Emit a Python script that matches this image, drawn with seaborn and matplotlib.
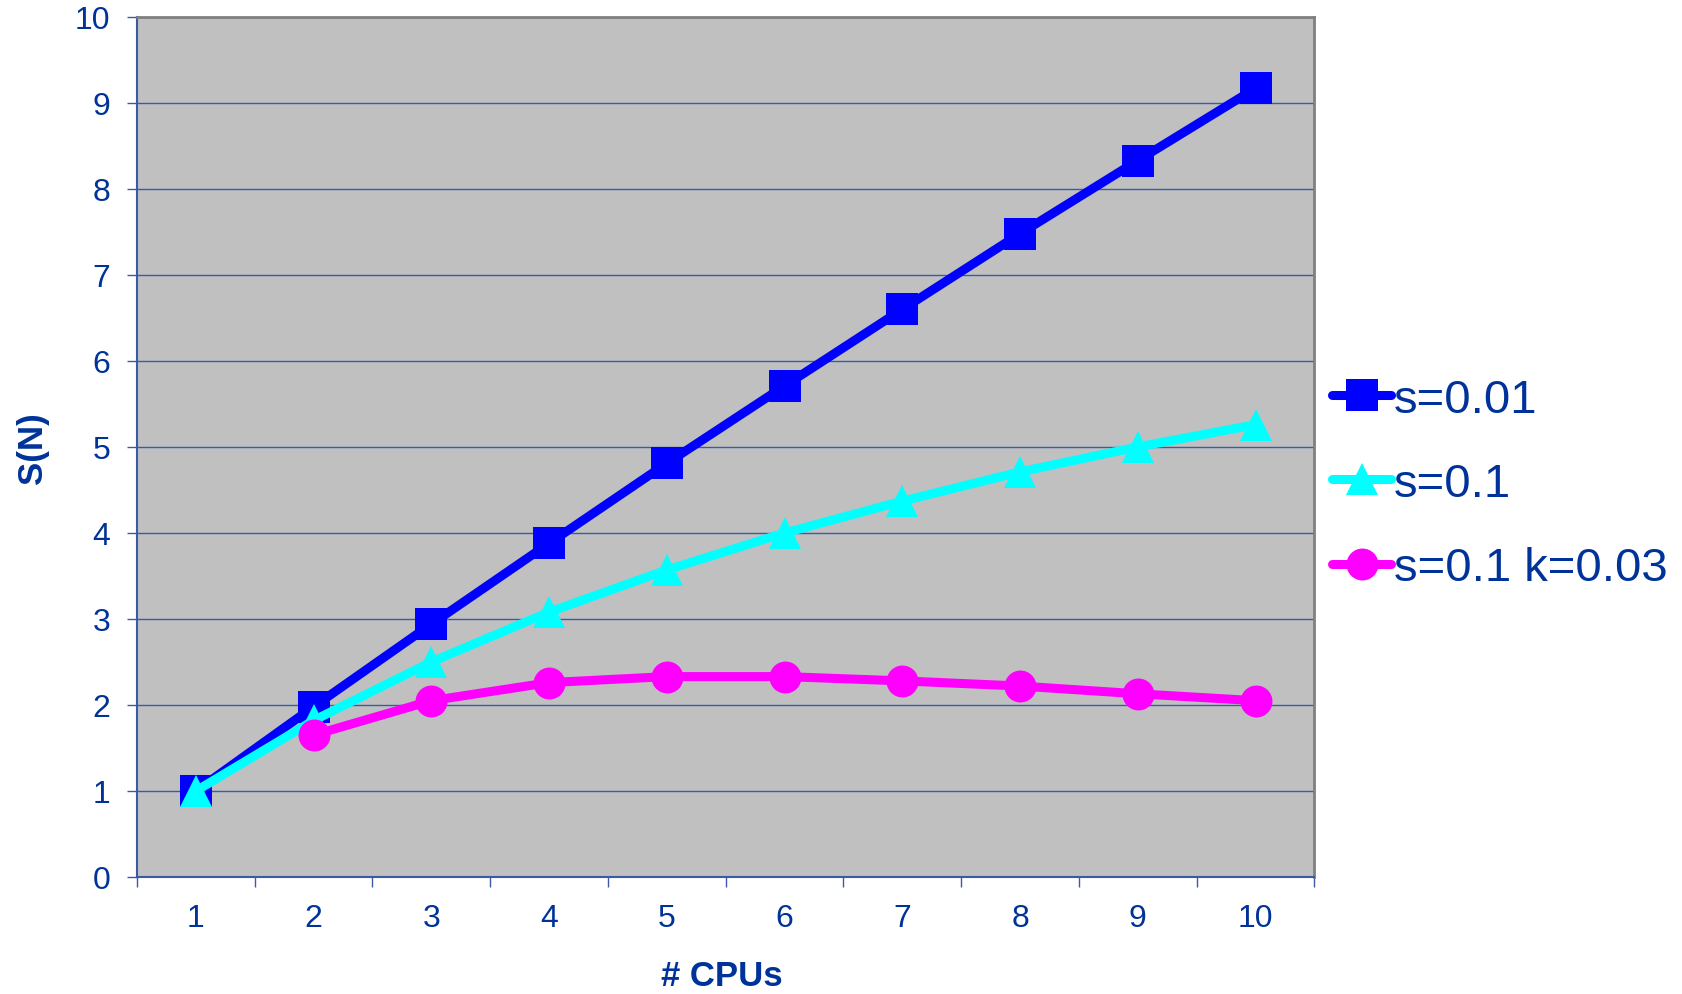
import pandas as pd
import matplotlib.pyplot as plt
import seaborn as sns
from matplotlib.ticker import MultipleLocator, FixedLocator

cpus = [1, 2, 3, 4, 5, 6, 7, 8, 9, 10]
s001 = [1.0, 1.98, 2.94, 3.88, 4.81, 5.71, 6.60, 7.48, 8.33, 9.17]
s01 = [1.0, 1.82, 2.50, 3.08, 3.57, 4.00, 4.37, 4.71, 5.00, 5.26]
cpus_k = [2, 3, 4, 5, 6, 7, 8, 9, 10]
s01_k003 = [1.65, 2.05, 2.26, 2.33, 2.33, 2.28, 2.22, 2.13, 2.05]

labels = ["s=0.01", "s=0.1", "s=0.1 k=0.03"]

df = pd.concat([
    pd.DataFrame({"cpus": cpus, "speedup": s001, "series": labels[0]}),
    pd.DataFrame({"cpus": cpus, "speedup": s01, "series": labels[1]}),
    pd.DataFrame({"cpus": cpus_k, "speedup": s01_k003, "series": labels[2]}),
])

sns.set_theme(style="white")
plt.rcParams["font.family"] = ["Liberation Sans", "DejaVu Sans"]

text_col = "#003399"
grid_col = "#3a5aa8"

fig = plt.figure(figsize=(16.83, 9.95), dpi=100)
ax = fig.add_axes([0.0814, 0.1176, 0.6996, 0.8644])
ax.set_facecolor("#c0c0c0")

palette = {labels[0]: "#0000ff", labels[1]: "#00ffff", labels[2]: "#ff00ff"}
markers = {labels[0]: "s", labels[1]: "^", labels[2]: "o"}

sns.lineplot(data=df, x="cpus", y="speedup", hue="series", style="series",
             palette=palette, markers=markers, dashes=False, linewidth=6.5,
             markersize=23, markeredgewidth=0, ax=ax, zorder=3)

ax.set_xlim(0.5, 10.5)
ax.set_ylim(0, 10)
ax.yaxis.set_major_locator(MultipleLocator(1))
ax.xaxis.set_major_locator(FixedLocator(cpus))
ax.xaxis.set_minor_locator(FixedLocator([x + 0.5 for x in range(0, 11)]))
ax.grid(axis="y", color=grid_col, linewidth=1.0, zorder=1)
ax.grid(axis="x", visible=False)

ax.tick_params(axis="x", which="major", length=0, pad=19, labelsize=23, labelcolor=text_col)
ax.tick_params(axis="x", which="minor", length=7, width=1, color=grid_col, direction="out")
ax.tick_params(axis="y", which="major", length=7, width=1, color=grid_col, direction="out",
               pad=12, labelsize=23, labelcolor=text_col)
ax.tick_params(bottom=True, left=True, which="both")

for side in ["left", "bottom"]:
    ax.spines[side].set_color(grid_col)
    ax.spines[side].set_linewidth(1.5)
for side in ["top", "right"]:
    ax.spines[side].set_color("#808080")
    ax.spines[side].set_linewidth(2)

ax.set_xlabel("# CPUs", fontsize=25, fontweight="bold", color=text_col, va="center")
ax.set_ylabel("S(N)", fontsize=25, fontweight="bold", color=text_col, va="center")
ax.xaxis.set_label_coords(0.497, -0.115)
ax.yaxis.set_label_coords(-0.089, 0.5)

handles, lbls = ax.get_legend_handles_labels()
leg = ax.legend(handles, lbls, loc="center left", bbox_to_anchor=(0.999, 0.457),
                frameon=False, fontsize=34, handlelength=1.25, handletextpad=0.05,
                labelspacing=0.85, borderaxespad=0)
for t in leg.get_texts():
    t.set_color(text_col)

fig.savefig("out.png", dpi=100)
